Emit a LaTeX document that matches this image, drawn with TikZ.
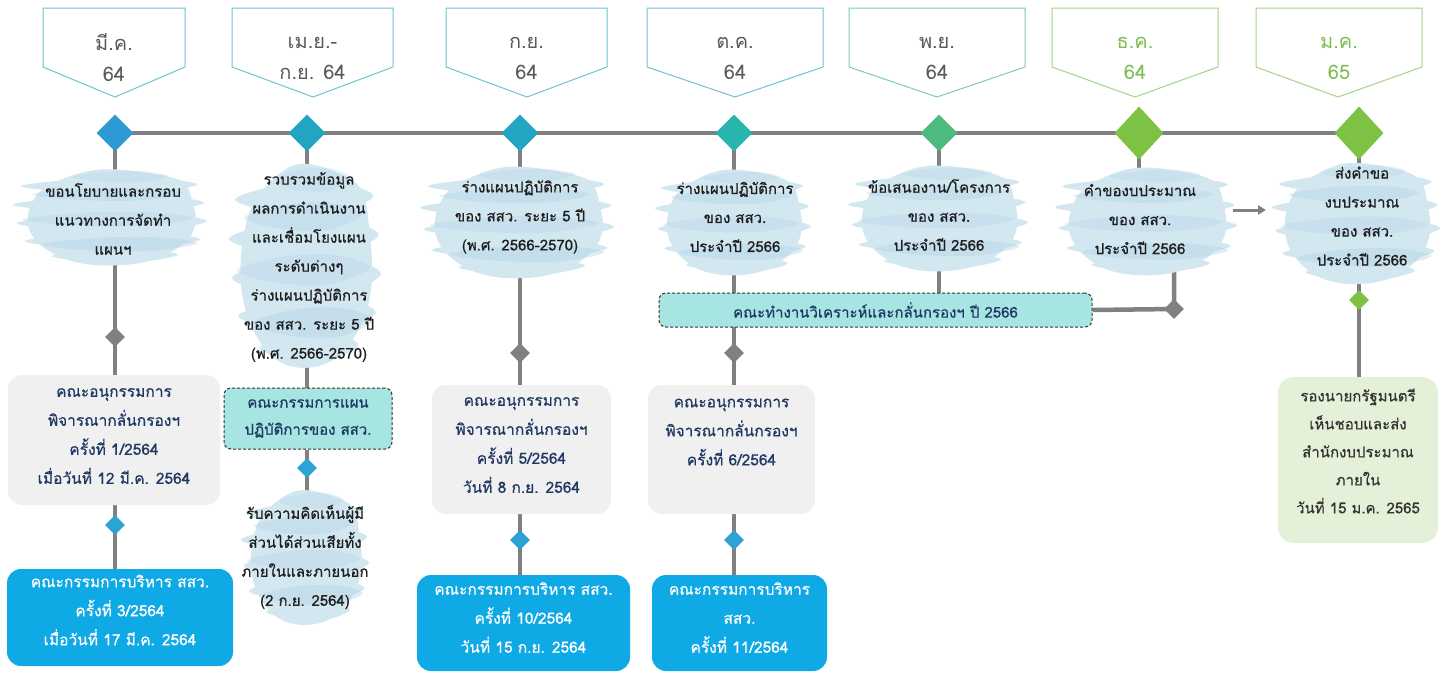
\documentclass[tikz,border=0pt]{standalone}
\usepackage{fontspec}
\newfontfamily\thai[Script=Thai]{Loma}
\newfontfamily\thaim[Script=Thai,FakeBold=0.6]{Loma}
\usetikzlibrary{arrows.meta,shapes.geometric}
\pgfdeclarelayer{bg}\pgfdeclarelayer{blob}
\pgfsetlayers{bg,blob,main}
\definecolor{tl}{HTML}{808080}
\definecolor{dA}{HTML}{2E9AD5}
\definecolor{dB}{HTML}{22A5C3}
\definecolor{dD}{HTML}{27B5AE}
\definecolor{dE}{HTML}{4DBB7F}
\definecolor{dF}{HTML}{7DC243}
\definecolor{frT}{HTML}{6FC4CE}
\definecolor{frG}{HTML}{A6D483}
\definecolor{frTG}{HTML}{7DCCB0}
\definecolor{hdT}{HTML}{5A5A5A}
\definecolor{hdG}{HTML}{7DBD52}
\definecolor{wcA}{HTML}{D3E7F1}
\definecolor{wcB}{HTML}{AFD1E4}
\definecolor{grayfill}{HTML}{F0F0F0}
\definecolor{navy}{HTML}{1F3864}
\definecolor{bluefill}{HTML}{0FA9E6}
\definecolor{dashfill}{HTML}{A6E5E1}
\definecolor{greenfill}{HTML}{E4F0D7}
\definecolor{sdblue}{HTML}{2CA3D2}
\definecolor{blobtext}{HTML}{1E1E1E}
\definecolor{darktext}{HTML}{333333}
\tikzset{
  conn/.style={draw=tl, line width=4.5pt},
  arr/.style={draw=tl, line width=3pt, -{Triangle[length=8pt,width=9pt]}},
  bigdia/.style={diamond, inner sep=0pt, minimum width=37pt, minimum height=37pt},
  hugedia/.style={diamond, inner sep=0pt, minimum width=49pt, minimum height=53pt, fill=dF},
  smdia/.style={diamond, inner sep=0pt, minimum width=20pt, minimum height=20pt},
  hdr/.style={font=\thai\fontsize{20}{31}\selectfont, align=center, inner sep=0pt},
  hdrframe/.style={draw=#1, line width=1pt},
  btxt/.style={font=\thaim\fontsize{15}{29}\selectfont, align=center, inner sep=0pt, text=blobtext},
  gbox/.style={fill=grayfill, rounded corners=14pt, text=navy, font=\thaim\fontsize{15.5}{29}\selectfont, align=center, inner sep=0pt},
  bbox/.style={fill=bluefill, rounded corners=14pt, text=white, font=\thaim\fontsize{15.5}{29}\selectfont, align=center, inner sep=0pt},
  grbox/.style={fill=greenfill, rounded corners=16pt, text=darktext, font=\thaim\fontsize{15}{28}\selectfont, align=center, inner sep=0pt},
  dbox/.style={fill=dashfill, draw=darktext, dash pattern=on 3pt off 2pt, line width=1pt, rounded corners=7pt, text=navy, font=\thaim\fontsize{15}{27}\selectfont, align=center, inner sep=0pt},
  streak/.style={fill=wcA},
  dstreak/.style={fill=wcB, opacity=#1},
}
\newcommand\hdrshape[4]{\draw[hdrframe=#4] (#1,8) -- (#2,8) -- (#2,67) -- (#3,97) -- (#1,67) -- cycle;}
% a horizontal brush streak: y, left x, right x, half thickness, style
\newcommand\brush[5]{\fill[#5] plot[smooth cycle,tension=0.55] coordinates {(#2,#1) ({#2+0.35*(#3-(#2))},{#1-#4}) ({#2+0.75*(#3-(#2))},{#1-1.1*#4}) (#3,{#1-0.2*#4}) ({#2+0.7*(#3-(#2))},{#1+#4}) ({#2+0.3*(#3-(#2))},{#1+0.9*#4})};}
\newcommand\wcblob[4]{%
 \begin{pgfonlayer}{blob}
 \begin{scope}[shift={(#1,#2)},xscale=#3,yscale=#4]
  \fill[wcA] plot[smooth cycle,tension=0.6] coordinates {(-0.85,0.05) (-0.75,-0.45) (-0.5,-0.75) (-0.1,-0.95) (0.4,-0.88) (0.75,-0.7) (0.85,-0.3) (0.88,0.15) (0.75,0.55) (0.4,0.88) (-0.05,0.97) (-0.45,0.85) (-0.75,0.5)};
  \brush{-0.62}{-0.92}{0.9}{0.14}{streak}
  \brush{-0.25}{-1.0}{0.97}{0.16}{streak}
  \brush{0.12}{-0.96}{1.0}{0.17}{streak}
  \brush{0.48}{-0.88}{0.93}{0.15}{streak}
  \brush{0.78}{-0.6}{0.7}{0.12}{streak}
  \brush{-0.45}{-0.8}{0.75}{0.12}{dstreak=0.35}
  \brush{0.05}{-0.9}{0.85}{0.13}{dstreak=0.3}
  \brush{0.55}{-0.7}{0.9}{0.13}{dstreak=0.4}
  \brush{-0.8}{-0.4}{0.6}{0.1}{dstreak=0.25}
 \end{scope}
 \end{pgfonlayer}}
\begin{document}
\begin{tikzpicture}[x=1pt,y=-1pt]
\useasboundingbox (0,0) rectangle (1440,672);
\begin{pgfonlayer}{bg}
\fill[white] (0,0) rectangle (1440,672);
\end{pgfonlayer}

% headers
\hdrshape{43}{185}{115}{frT}
\node[hdr,text=hdT] (h1) at (114,58) {มี.ค.\\64};
\hdrshape{232}{393}{313}{frT}
\node[hdr,text=hdT] (h2) at (312.5,58) {เม.ย.-\\ก.ย. 64};
\hdrshape{446}{607}{527}{frT}
\node[hdr,text=hdT] (h3) at (526.5,58) {ก.ย.\\64};
\hdrshape{647}{823}{735}{frT}
\node[hdr,text=hdT] (h4) at (735,58) {ต.ค.\\64};
\hdrshape{849}{1025}{937}{frTG}
\node[hdr,text=hdT] (h5) at (937,58) {พ.ย.\\64};
\hdrshape{1052}{1218}{1135}{frG}
\node[hdr,text=hdG] (h6) at (1135,58) {ธ.ค.\\64};
\hdrshape{1256}{1422}{1338}{frG}
\node[hdr,text=hdG] (h7) at (1339,58) {ม.ค.\\65};

% timeline diamonds
\node[bigdia, fill=dA] (d1) at (115,133) {};
\node[bigdia, fill=dB] (d2) at (307,133) {};
\node[bigdia, fill=dB] (d3) at (520,133) {};
\node[bigdia, fill=dD] (d4) at (734,133) {};
\node[bigdia, fill=dE] (d5) at (939,133) {};
\node[hugedia] (d6) at (1139,133) {};
\node[hugedia] (d7) at (1359,133) {};

% blobs and texts
\wcblob{110}{217}{97}{50}
\node[btxt] (t1) at (113,219) {ขอนโยบายและกรอบ\\แนวทางการจัดทำ\\แผนฯ};
\wcblob{305}{265}{76}{106}
\node[btxt] (t2) at (309,267) {รวบรวมข้อมูล\\ผลการดำเนินงาน\\และเชื่อมโยงแผน\\ระดับต่างๆ\\ร่างแผนปฏิบัติการ\\ของ สสว. ระยะ 5 ปี\\(พ.ศ. 2566-2570)};
\wcblob{305}{557}{64}{70}
\node[btxt] (t2b) at (305,557) {รับความคิดเห็นผู้มี\\ส่วนได้ส่วนเสียทั้ง\\ภายในและภายนอก\\(2 ก.ย. 2564)};
\wcblob{517}{222}{97}{58}
\node[btxt] (t3) at (520,217) {ร่างแผนปฏิบัติการ\\ของ สสว. ระยะ 5 ปี\\(พ.ศ. 2566-2570)};
\wcblob{733}{222}{78}{55}
\node[btxt] (t4) at (735,217) {ร่างแผนปฏิบัติการ\\ของ สสว.\\ประจำปี 2566};
\wcblob{938}{218}{90}{55}
\node[btxt] (t5) at (939,215) {ข้อเสนองาน/โครงการ\\ของ สสว.\\ประจำปี 2566};
\wcblob{1146}{221}{91}{56}
\node[btxt] (t6) at (1140,219) {คำของบประมาณ\\ของ สสว.\\ประจำปี 2566};
\wcblob{1356}{223}{84}{63}
\node[btxt] (t7) at (1362,216) {ส่งคำขอ\\งบประมาณ\\ของ สสว.\\ประจำปี 2566};

% column 1
\node[smdia, fill=tl] (s1) at (115,337) {};
\node[gbox, minimum width=212pt, minimum height=130pt] (g1) at (114,440) {คณะอนุกรรมการ\\พิจารณากลั่นกรองฯ\\ครั้งที่ 1/2564\\เมื่อวันที่ 12 มี.ค. 2564\\[-21pt]\mbox{}};
\node[smdia, fill=sdblue] (q1) at (115,525) {};
\node[bbox, minimum width=226pt, minimum height=97pt] (b1) at (120,617.5) {คณะกรรมการบริหาร สสว.\\ครั้งที่ 3/2564\\เมื่อวันที่ 17 มี.ค. 2564\\[-14pt]\mbox{}};

% column 2
\node[dbox, minimum width=168pt, minimum height=61pt] (c2) at (308,418.5) {คณะกรรมการแผน\\ปฏิบัติการของ สสว.};
\node[smdia, fill=sdblue] (q2) at (307,468) {};

% column 3
\node[smdia, fill=tl] (s3) at (520,353) {};
\node[gbox, minimum width=179pt, minimum height=129pt] (g3) at (521.5,449.5) {คณะอนุกรรมการ\\พิจารณากลั่นกรองฯ\\ครั้งที่ 5/2564\\วันที่ 8 ก.ย. 2564\\[-20pt]\mbox{}};
\node[smdia, fill=sdblue] (q3) at (520,540) {};
\node[bbox, minimum width=213pt, minimum height=96pt] (b3) at (523.5,623) {คณะกรรมการบริหาร สสว.\\ครั้งที่ 10/2564\\วันที่ 15 ก.ย. 2564\\[-18pt]\mbox{}};

% column 4
\node[dbox, minimum width=433pt, minimum height=34pt] (k) at (875.5,310) {คณะทำงานวิเคราะห์และกลั่นกรองฯ ปี 2566};
\node[smdia, fill=tl] (s4) at (734,353) {};
\node[gbox, minimum width=167pt, minimum height=129pt] (g4) at (731.5,449.5) {คณะอนุกรรมการ\\พิจารณากลั่นกรองฯ\\ครั้งที่ 6/2564\\[6pt]\mbox{}};
\node[smdia, fill=sdblue] (q4) at (734,540) {};
\node[bbox, minimum width=175pt, minimum height=96pt] (b4) at (739.5,623) {คณะกรรมการบริหาร\\สสว.\\ครั้งที่ 11/2564\\[-18pt]\mbox{}};

% column 6 and 7
\node[smdia, fill=tl] (s6) at (1174,309) {};
\node[smdia, fill=dF] (q7) at (1359,300) {};
\node[grbox, minimum width=160pt, minimum height=166pt] (g7) at (1358,460) {รองนายกรัฐมนตรี\\เห็นชอบและส่ง\\สำนักงบประมาณ\\ภายใน\\วันที่ 15 ม.ค. 2565\\[-10pt]\mbox{}};

% arrow between blobs
\coordinate (a1) at (1233,210);
\coordinate (a2) at (1266,210);
\draw[arr] (a1) -- (a2);

% connectors
\begin{pgfonlayer}{bg}
\draw[conn] (d1.center) -- (d7.center);
\draw[conn] (d1.center) -- (d1.center |- b1.north);
\draw[conn] (d2.center) -- (d2.center |- c2.north);
\draw[conn] (q2.center |- c2.south) -- (q2.center |- t2b.center);
\draw[conn] (d3.center) -- (d3.center |- b3.north);
\draw[conn] (d4.center) -- (d4.center |- b4.north);
\draw[conn] (d5.center) -- (d5.center |- k.north);
\draw[conn] (d6.center) -- (d6.center |- t6.center);
\draw[conn] (k.east) -- (s6.center) -- (s6.center |- t6.center);
\draw[conn] (d7.center) -- (d7.center |- g7.north);
\end{pgfonlayer}
\end{tikzpicture}
\end{document}
